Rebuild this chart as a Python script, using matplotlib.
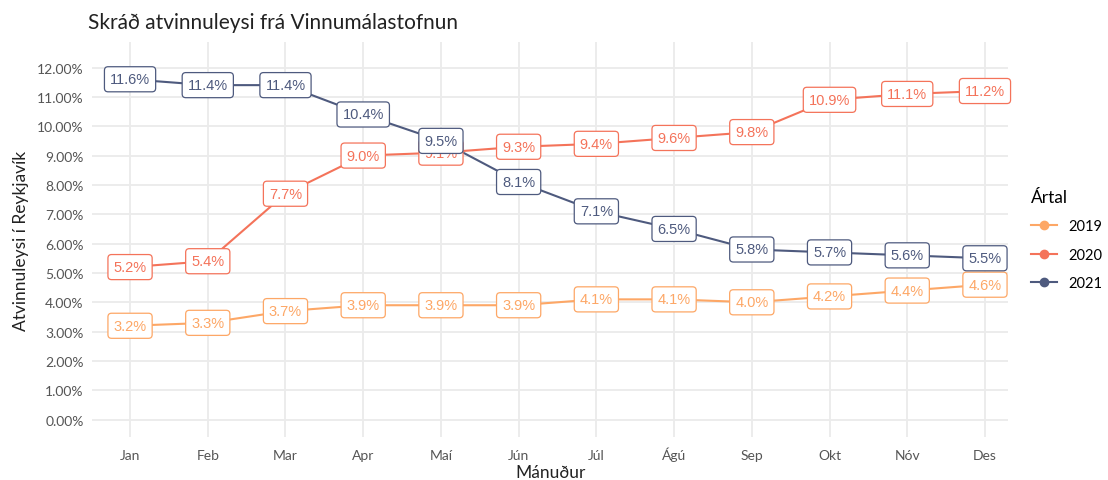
import matplotlib.pyplot as plt
from matplotlib.ticker import FuncFormatter, MultipleLocator

# gögn
months = ['Jan', 'Feb', 'Mar', 'Apr', 'Maí', 'Jún', 'Júl', 'Ágú', 'Sep', 'Okt', 'Nóv', 'Des']
y2019 = [3.2, 3.3, 3.7, 3.9, 3.9, 3.9, 4.1, 4.1, 4.0, 4.2, 4.4, 4.6]
y2020 = [5.2, 5.4, 7.7, 9.0, 9.1, 9.3, 9.4, 9.6, 9.8, 10.9, 11.1, 11.2]
y2021 = [11.6, 11.4, 11.4, 10.4, 9.5, 8.1, 7.1, 6.5, 5.8, 5.7, 5.6, 5.5]
years = ['2019', '2020', '2021']
colors = ['#FDA766', '#F4735A', '#4E5A7E']

plt.rcParams['font.family'] = ['Lato', 'DejaVu Sans']

fig = plt.figure(figsize=(11.08, 4.81), dpi=100)
ax = fig.add_axes([0.083, 0.09, 0.827, 0.82])

x = list(range(len(months)))
for yr, vals, c in zip(years, [y2019, y2020, y2021], colors):
    ax.plot(x, vals, color=c, lw=1.5, marker='o', ms=6, label=yr, zorder=3)
    for xi, v in zip(x, vals):
        ax.text(xi, v, f'{v:.1f}%', color=c, fontsize=10.5, family='Liberation Sans',
                ha='center', va='center', zorder=4,
                bbox=dict(boxstyle='round,pad=0.38,rounding_size=0.25', fc='white', ec=c, lw=0.9))

ax.set_xlim(-0.49, 11.3)
ax.set_ylim(-0.58, 12.86)
ax.set_xticks(x)
ax.set_xticklabels(months)
ax.yaxis.set_major_locator(MultipleLocator(1))
ax.yaxis.set_major_formatter(FuncFormatter(lambda v, p: f'{v:.2f}%'))
ax.grid(True, color='#EBEBEB', lw=1.3)
ax.set_axisbelow(True)
for s in ax.spines.values():
    s.set_visible(False)
ax.tick_params(length=0, labelsize=10, labelcolor='#555555', pad=6)
ax.tick_params(axis='x', pad=16)
for lbl in ax.get_xticklabels():
    lbl.set_verticalalignment('baseline')

ax.set_xlabel('Mánuður', fontsize=12.5, color='#222222', labelpad=2)
ax.set_ylabel('Atvinnuleysi í Reykjavík', fontsize=12.5, color='#222222', labelpad=6)
fig.text(0.079, 0.94, 'Skráð atvinnuleysi frá Vinnumálastofnun', fontsize=15, color='#222222')

leg = ax.legend(title='Ártal', loc='center left', bbox_to_anchor=(1.01, 0.5), frameon=False,
                fontsize=10.5, title_fontsize=12.5, handlelength=1.8, labelspacing=1.0)
leg._legend_box.align = 'left'

fig.savefig('out.png', dpi=100)
